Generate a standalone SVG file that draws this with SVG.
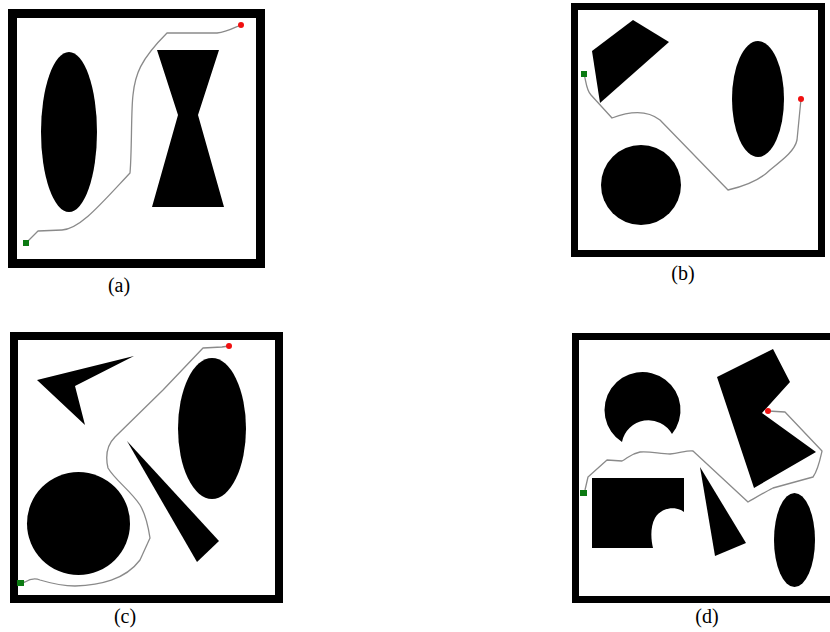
<svg xmlns="http://www.w3.org/2000/svg" width="830" height="632" viewBox="0 0 830 632">
<style>
.frame{fill:#fff;stroke:#000}
.obs{fill:#000}
.route{fill:none;stroke:#8a8a8a;stroke-width:1.3;stroke-linejoin:round}
.start{fill:#0b7a12}
.goal{fill:#f01010}
.lbl{font-family:"Liberation Serif","Times New Roman",serif;font-size:20px;fill:#000;text-anchor:middle}
</style>
<rect width="830" height="632" fill="#fff"/>
<g id="panel-a">
<rect class="frame" x="12.5" y="13.5" width="248" height="250" stroke-width="9"/>
<ellipse class="obs" cx="69" cy="132" rx="28" ry="80"/>
<polygon class="obs" points="157,50 219,50 198,115 224,207 152,207 178,115"/>
<path class="route" d="M26,243 L38,231 L62,230 C80,229 100,205 130,173 C132,150 131,110 133,95 C135,75 140,60 167,33 L217,33 C228,32 235,27 241,25"/>
<rect class="start" x="23" y="240" width="6" height="6"/>
<circle class="goal" cx="241" cy="25" r="3"/>
<text class="lbl" x="119" y="292">(a)</text>
</g>
<g id="panel-b">
<rect class="frame" x="574.5" y="6.5" width="247" height="247" stroke-width="7"/>
<polygon class="obs" points="592,51 633,20 669,42 600,103"/>
<ellipse class="obs" cx="758" cy="99" rx="26" ry="58"/>
<circle class="obs" cx="641" cy="185" r="40"/>
<path class="route" d="M584,74 C586,80 586,90 591,95 L612,118 C625,113 645,108 660,120 L728,190 C745,186 760,180 770,170 C785,158 795,150 797,140 L801,99"/>
<rect class="start" x="581" y="71" width="6" height="6"/>
<circle class="goal" cx="801" cy="99" r="3"/>
<text class="lbl" x="683" y="280">(b)</text>
</g>
<g id="panel-c">
<rect class="frame" x="14" y="336" width="265" height="263" stroke-width="8"/>
<polygon class="obs" points="37,380 134,356 75,386 85,425"/>
<ellipse class="obs" cx="212" cy="428.5" rx="34" ry="70.5"/>
<circle class="obs" cx="78.5" cy="523.5" r="51.5"/>
<polygon class="obs" points="127,441 219,541 197,562"/>
<path class="route" d="M21,583 L25,582 C30,579 35,578 40,580 C50,583 60,586 75,586 C100,585 125,580 140,560 L150,538 C148,525 146,515 140,505 C130,490 115,480 108,468 C105,455 107,445 115,437 L163,390 L203,348 L222,347 L229,346"/>
<rect class="start" x="17" y="580" width="7" height="6"/>
<circle class="goal" cx="229" cy="346" r="3"/>
<text class="lbl" x="125" y="623">(c)</text>
</g>
<g id="panel-d">
<rect class="frame" x="575.5" y="336.5" width="262" height="263" stroke-width="7"/>
<path class="obs" d="M622,442 A38,38 0 1 1 672,434 A27,27 0 0 0 622,442 Z"/>
<path class="obs" d="M592,478 L684,478 L684,512 C676,506 662,507 655,518 C650,527 651,540 653,548 L592,548 Z"/>
<polygon class="obs" points="700,467 746,543 715,556"/>
<polygon class="obs" points="717,377 773,349 790,382 762,413 816,452 754,488"/>
<ellipse class="obs" cx="794.5" cy="540" rx="20.5" ry="47"/>
<path class="route" d="M583,493 L585,490 L588,477 L607,460 L622,461 C628,458 630,454 640,452 C650,451 660,454 670,454 C680,453 688,450 693,451 L748,502 C755,498 765,492 773,488 L813,477 C818,470 820,460 822,451 L785,412 L768,411"/>
<rect class="start" x="580" y="490" width="7" height="6"/>
<circle class="goal" cx="768" cy="411" r="3"/>
<text class="lbl" x="707" y="623">(d)</text>
</g>
</svg>
